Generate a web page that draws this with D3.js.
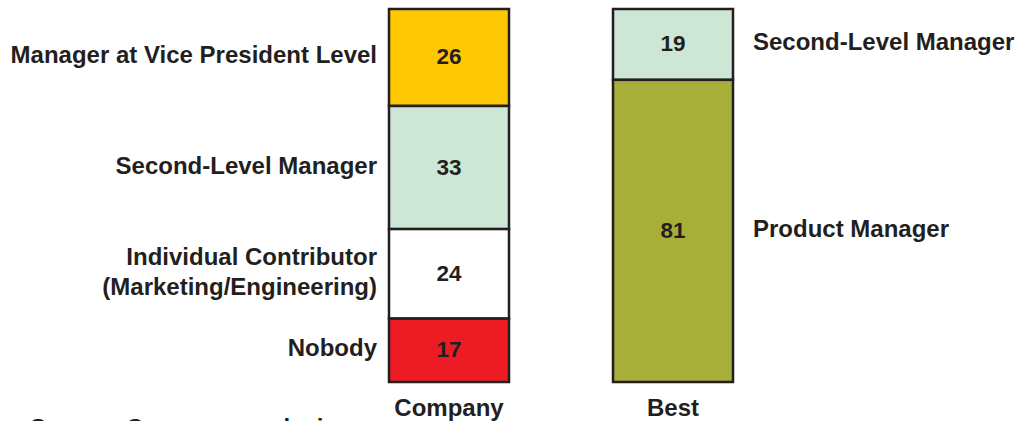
<!DOCTYPE html>
<html>
<head>
<meta charset="utf-8">
<script src="https://cdn.jsdelivr.net/npm/d3@7"></script>
<style>
  body { margin: 0; background: #fff; }
  text { font-family: "Liberation Sans", Arial, sans-serif; font-weight: bold; fill: #231f20; }
</style>
</head>
<body>
<script>
// Données
const columns = ["Company", "Best"];
const companyLabels = ["Manager at Vice President Level", "Second-Level Manager", "Individual Contributor\n(Marketing/Engineering)", "Nobody"];
const companyValues = [26, 33, 24, 17];
const companyColors = ["#ffc805", "#cde6d5", "#ffffff", "#ed1c24"];
const bestLabels = ["Second-Level Manager", "Product Manager"];
const bestValues = [19, 81];
const bestColors = ["#cde6d5", "#a8ae3a"];
const sourceNote = "Source: Company analysis";

const width = 1019;
const height = 421;

const svg = d3.select("body").append("svg")
    .attr("width", width)
    .attr("height", height);

const x = d3.scaleBand()
    .domain(columns)
    .range([389, 733])
    .paddingInner(0.4643);

const y = d3.scaleLinear()
    .domain([0, 100])
    .range([9, 382]);

// empile les segments
function stack(values, labels, colors) {
    let acc = 0;
    return values.map((v, i) => {
        const d = { value: v, label: labels[i], color: colors[i], y0: acc, y1: acc + v };
        acc += v;
        return d;
    });
}

const series = [
    { name: "Company", segs: stack(companyValues, companyLabels, companyColors), side: "left" },
    { name: "Best", segs: stack(bestValues, bestLabels, bestColors), side: "right" }
];

series.forEach(s => {
    const g = svg.append("g");
    const x0 = x(s.name);
    const bw = x.bandwidth();

    g.selectAll("rect")
        .data(s.segs)
        .enter()
        .append("rect")
        .attr("x", x0)
        .attr("y", d => y(d.y0))
        .attr("width", bw)
        .attr("height", d => y(d.y1) - y(d.y0))
        .attr("fill", d => d.color)
        .attr("stroke", "#231f20")
        .attr("stroke-width", 2.5);

    // valeurs
    g.selectAll("text.val")
        .data(s.segs)
        .enter()
        .append("text")
        .attr("class", "val")
        .attr("x", x0 + bw / 2)
        .attr("y", d => (y(d.y0) + y(d.y1)) / 2 + 7)
        .attr("text-anchor", "middle")
        .style("font-size", "22.5px")
        .text(d => d.value);

    // labels
    s.segs.forEach(d => {
        const lines = d.label.split("\n");
        const cy = (y(d.y0) + y(d.y1)) / 2;
        const lx = s.side === "left" ? x0 - 12 : x0 + bw + 20;
        const t = g.append("text")
            .attr("text-anchor", s.side === "left" ? "end" : "start")
            .attr("x", lx)
            .style("font-size", "24px");
        lines.forEach((line, i) => {
            t.append("tspan")
                .attr("x", lx)
                .attr("y", cy + 6 + (i - (lines.length - 1) / 2) * 30)
                .text(line);
        });
    });

    // nom de colonne
    svg.append("text")
        .attr("x", x0 + bw / 2)
        .attr("y", 416)
        .attr("text-anchor", "middle")
        .style("font-size", "24px")
        .text(s.name);
});

// note de source, coupée par le bas comme dans l'original
svg.append("text")
    .attr("x", 30)
    .attr("y", 436)
    .style("font-size", "24px")
    .text(sourceNote);
</script>
</body>
</html>
